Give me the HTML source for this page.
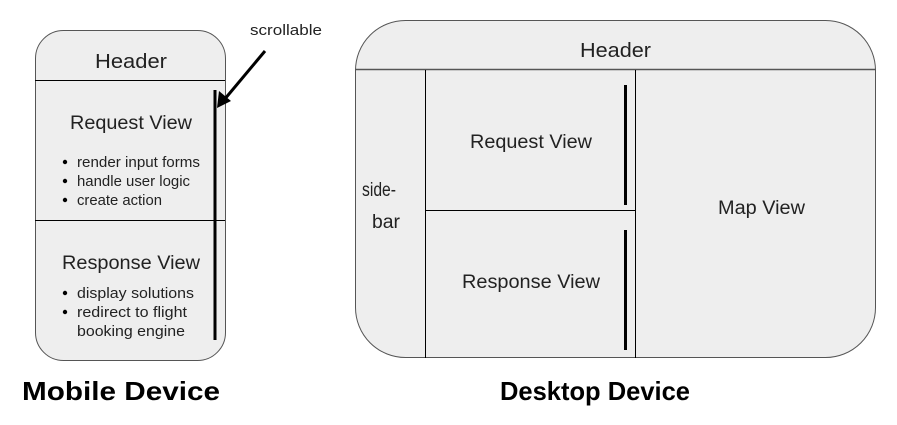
<!DOCTYPE html>
<html><head><meta charset="utf-8"><style>
html,body{margin:0;padding:0;background:#fff;}
svg{display:block;}
text{font-family:"Liberation Sans",Arial,sans-serif;fill:#222;}
</style></head><body>
<svg width="897" height="425" viewBox="0 0 897 425" xmlns="http://www.w3.org/2000/svg">
<!-- Mobile -->
<rect x="35.5" y="30.5" width="190" height="330" rx="28" ry="28" fill="#eeeeee" stroke="#555" stroke-width="1"/>
<line x1="35" y1="80.5" x2="225" y2="80.5" stroke="#000" stroke-width="1"/>
<line x1="35" y1="220.5" x2="225" y2="220.5" stroke="#000" stroke-width="1"/>
<line x1="215" y1="90" x2="215" y2="340" stroke="#000" stroke-width="3"/>
<text x="95" y="68" font-size="20" textLength="72" lengthAdjust="spacingAndGlyphs">Header</text>
<text x="70" y="129" font-size="19" textLength="122" lengthAdjust="spacingAndGlyphs">Request View</text>
<g font-size="15">
<circle cx="65" cy="162" r="2.2" fill="#000"/><text x="77" y="167" textLength="123" lengthAdjust="spacingAndGlyphs">render input forms</text>
<circle cx="65" cy="181" r="2.2" fill="#000"/><text x="77" y="186" textLength="113" lengthAdjust="spacingAndGlyphs">handle user logic</text>
<circle cx="65" cy="200" r="2.2" fill="#000"/><text x="77" y="205" textLength="85" lengthAdjust="spacingAndGlyphs">create action</text>
</g>
<text x="62" y="269" font-size="19" textLength="138" lengthAdjust="spacingAndGlyphs">Response View</text>
<g font-size="15">
<circle cx="65" cy="293" r="2.2" fill="#000"/><text x="77" y="298" textLength="117" lengthAdjust="spacingAndGlyphs">display solutions</text>
<circle cx="65" cy="312" r="2.2" fill="#000"/><text x="77" y="317" textLength="110" lengthAdjust="spacingAndGlyphs">redirect to flight</text>
<text x="77" y="336" textLength="108" lengthAdjust="spacingAndGlyphs">booking engine</text>
</g>
<!-- arrow -->
<text x="250" y="35" font-size="15" textLength="72" lengthAdjust="spacingAndGlyphs">scrollable</text>
<line x1="265" y1="51" x2="224" y2="100" stroke="#000" stroke-width="3"/>
<polygon points="217,108 219,91 231,101" fill="#000"/>
<text x="22" y="400" font-size="26" font-weight="bold" textLength="198" lengthAdjust="spacingAndGlyphs" style="fill:#000">Mobile Device</text>
<!-- Desktop -->
<rect x="355.5" y="20.5" width="520" height="337" rx="50" ry="50" fill="#eeeeee" stroke="#555" stroke-width="1"/>
<line x1="355" y1="69.5" x2="876" y2="69.5" stroke="#555" stroke-width="1.5"/>
<line x1="425.5" y1="70" x2="425.5" y2="358" stroke="#000" stroke-width="1"/>
<line x1="635.5" y1="70" x2="635.5" y2="358" stroke="#000" stroke-width="1"/>
<line x1="425" y1="210.5" x2="635" y2="210.5" stroke="#000" stroke-width="1"/>
<line x1="625.5" y1="85" x2="625.5" y2="205" stroke="#000" stroke-width="3"/>
<line x1="625.5" y1="230" x2="625.5" y2="350" stroke="#000" stroke-width="3"/>
<text x="580" y="57" font-size="20" textLength="71" lengthAdjust="spacingAndGlyphs">Header</text>
<text x="470" y="148" font-size="19" textLength="122" lengthAdjust="spacingAndGlyphs">Request View</text>
<text x="462" y="288" font-size="19" textLength="138" lengthAdjust="spacingAndGlyphs">Response View</text>
<text x="718" y="214" font-size="19" textLength="87" lengthAdjust="spacingAndGlyphs">Map View</text>
<text x="362" y="196" font-size="19" textLength="34" lengthAdjust="spacingAndGlyphs">side-</text>
<text x="372" y="228" font-size="19" textLength="28" lengthAdjust="spacingAndGlyphs">bar</text>
<text x="500" y="400" font-size="26" font-weight="bold" textLength="190" lengthAdjust="spacingAndGlyphs" style="fill:#000">Desktop Device</text>
</svg>
</body></html>
